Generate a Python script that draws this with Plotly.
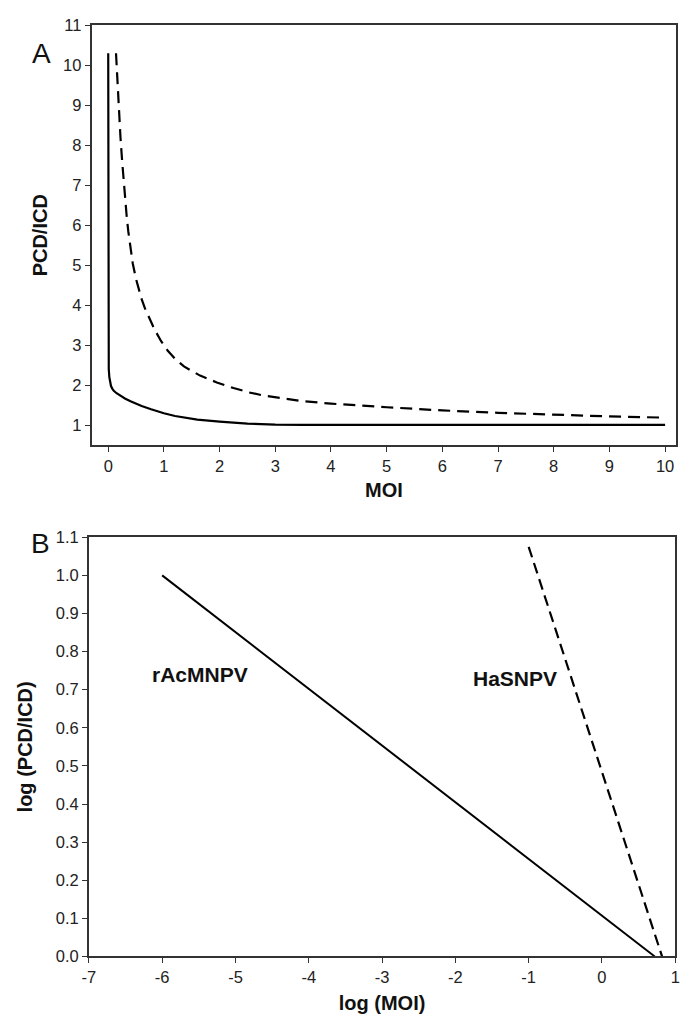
import plotly.graph_objects as go

# ---------------- Data ----------------
# Panel A: PCD/ICD vs MOI
moi_racmnpv = [0.0, 0.002, 0.005, 0.01, 0.02, 0.035, 0.05, 0.075, 0.1, 0.15, 0.2, 0.3, 0.4, 0.5,
               0.6, 0.77, 0.9, 1.0, 1.2, 1.36, 1.6, 2.0, 2.5, 3.0, 3.5, 10.0]
ratio_racmnpv = [10.3, 3.3, 2.7, 2.4, 2.2, 2.05, 1.98, 1.91, 1.86, 1.8, 1.75, 1.67, 1.6, 1.54,
                 1.48, 1.4, 1.34, 1.3, 1.23, 1.19, 1.14, 1.09, 1.04, 1.015, 1.01, 1.01]

moi_hasnpv = [0.14, 0.16, 0.18, 0.2, 0.22, 0.25, 0.27, 0.3, 0.33, 0.36, 0.39, 0.44, 0.5, 0.55,
              0.6, 0.66, 0.72, 0.83, 0.95, 1.07, 1.2, 1.36, 1.65, 1.95, 2.25, 2.53, 2.8, 3.12,
              3.5, 4.0, 4.5, 5.0, 5.5, 6.0, 7.0, 8.0, 9.0, 10.0]
ratio_hasnpv = [10.3, 9.7, 9.15, 8.65, 8.2, 7.6, 7.2, 6.7, 6.25, 5.85, 5.5, 5.05, 4.65, 4.38,
                4.15, 3.92, 3.72, 3.4, 3.1, 2.86, 2.66, 2.47, 2.24, 2.07, 1.93, 1.82, 1.74, 1.67,
                1.6, 1.54, 1.49, 1.45, 1.41, 1.37, 1.31, 1.26, 1.22, 1.19]

# Panel B: log(PCD/ICD) vs log(MOI)
logmoi_racmnpv = [-6.0, 0.72]
logratio_racmnpv = [1.0, 0.0]
logmoi_hasnpv = [-1.0, 0.82]
logratio_hasnpv = [1.075, 0.0]

labels_b = ["rAcMNPV", "HaSNPV"]
label_x_b = [-5.48, -1.18]
label_y_b = [0.74, 0.73]

# Tick labels
xticks_a = list(range(0, 11))
yticks_a = list(range(1, 12))
xticks_b = [-7, -6, -5, -4, -3, -2, -1, 0, 1]
xticktext_b = ["-7", "-6", "-5", "-4", "-3", "-2", "-1", "0", "1"]
yticks_b = [0.0, 0.1, 0.2, 0.3, 0.4, 0.5, 0.6, 0.7, 0.8, 0.9, 1.0, 1.1]
yticktext_b = ["0.0", "0.1", "0.2", "0.3", "0.4", "0.5", "0.6", "0.7", "0.8", "0.9", "1.0", "1.1"]

# ---------------- Figure ----------------
W, H = 694, 1029
FONT = "Liberation Sans, Arial, Helvetica, sans-serif"
AXC = "#333333"

fig = go.Figure()

fig.add_trace(go.Scatter(x=moi_racmnpv, y=ratio_racmnpv, mode="lines",
                         line=dict(color="black", width=2.2), xaxis="x", yaxis="y",
                         name="rAcMNPV", showlegend=False))
fig.add_trace(go.Scatter(x=moi_hasnpv, y=ratio_hasnpv, mode="lines",
                         line=dict(color="black", width=2.2, dash="12px,7px"), xaxis="x", yaxis="y",
                         name="HaSNPV", showlegend=False))
fig.add_trace(go.Scatter(x=logmoi_racmnpv, y=logratio_racmnpv, mode="lines",
                         line=dict(color="black", width=2), xaxis="x2", yaxis="y2",
                         name="rAcMNPV", showlegend=False))
fig.add_trace(go.Scatter(x=logmoi_hasnpv, y=logratio_hasnpv, mode="lines",
                         line=dict(color="black", width=2.2, dash="11px,6px"), xaxis="x2", yaxis="y2",
                         name="HaSNPV", showlegend=False))

axis_common = dict(showline=True, linecolor=AXC, linewidth=1.6, mirror=True,
                   ticks="outside", ticklen=5, tickwidth=1.4, tickcolor=AXC,
                   showgrid=False, zeroline=False,
                   tickfont=dict(family=FONT, size=16.5, color="#222222"))
title_font = dict(family=FONT, size=20, color="#111111")

fig.update_layout(
    width=W, height=H,
    margin=dict(l=0, r=0, t=0, b=0),
    paper_bgcolor="white", plot_bgcolor="white",
    font=dict(family=FONT),
    xaxis=dict(domain=[86 / W, 681 / W], range=[-0.3, 10.2], tickmode="array",
               tickvals=xticks_a, ticktext=[str(v) for v in xticks_a], anchor="y",
               title=dict(text="<b>MOI</b>", font=title_font, standoff=9), **axis_common),
    yaxis=dict(domain=[1 - 444 / H, 1 - 16.5 / H], range=[0.5, 11], tickmode="array",
               tickvals=yticks_a, ticktext=[str(v) for v in yticks_a], anchor="x",
               title=dict(text="<b>PCD/ICD</b>", font=title_font, standoff=10), **axis_common),
    xaxis2=dict(domain=[83.3 / W, 680 / W], range=[-7, 1], tickmode="array",
                tickvals=xticks_b, ticktext=xticktext_b, anchor="y2",
                title=dict(text="<b>log (MOI)</b>", font=title_font, standoff=11), **axis_common),
    yaxis2=dict(domain=[1 - 964.3 / H, 1 - 537.7 / H], range=[0, 1.1], tickmode="array",
                tickvals=yticks_b, ticktext=yticktext_b, anchor="x2",
                title=dict(text="<b>log (PCD/ICD)</b>", font=title_font, standoff=18), **axis_common),
)

for txt, lx, ly in zip(labels_b, label_x_b, label_y_b):
    fig.add_annotation(x=lx, y=ly, xref="x2", yref="y2", text=f"<b>{txt}</b>",
                       showarrow=False, font=dict(family=FONT, size=21, color="#111111"))

fig.add_annotation(x=23 / W, y=1 - 27 / H, xref="paper", yref="paper", text="A",
                   showarrow=False, font=dict(family=FONT, size=28, color="#111111"))
fig.add_annotation(x=22 / W, y=1 - 544 / H, xref="paper", yref="paper", text="B",
                   showarrow=False, font=dict(family=FONT, size=28, color="#111111"))

fig.write_html("out.html", config={"displayModeBar": False},
               post_script="document.body.style.margin='0px';")
